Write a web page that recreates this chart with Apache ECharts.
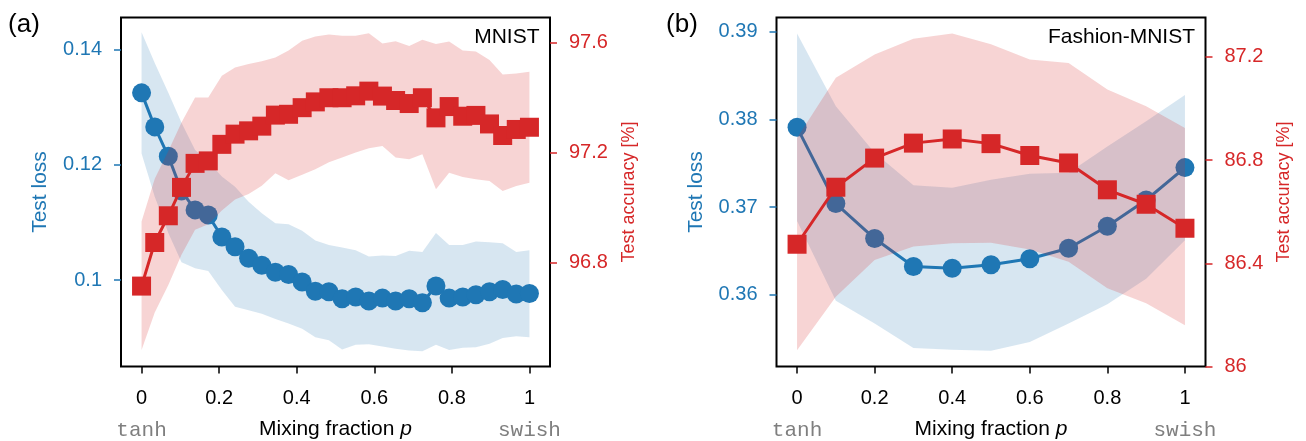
<!DOCTYPE html>
<html>
<head>
<meta charset="utf-8">
<script src="https://cdn.jsdelivr.net/npm/echarts@6/dist/echarts.min.js"></script>
<style>
  html, body { margin: 0; padding: 0; background: #fff; }
  #chart { width: 1306px; height: 441px; }
</style>
</head>
<body>
<div id="chart"></div>
<script>
// (a) MNIST: 30 mixing fractions
const mnistP = [0, 0.034, 0.069, 0.103, 0.138, 0.172, 0.207, 0.241, 0.276, 0.31,
  0.345, 0.379, 0.414, 0.448, 0.483, 0.517, 0.552, 0.586, 0.621, 0.655,
  0.69, 0.724, 0.759, 0.793, 0.828, 0.862, 0.897, 0.931, 0.966, 1];
const mnistLoss = [0.1325, 0.1266, 0.1215, 0.1155, 0.1122, 0.1113, 0.1075, 0.1058, 0.1038, 0.1026,
  0.1014, 0.1010, 0.0997, 0.0981, 0.0980, 0.0968, 0.0971, 0.0964, 0.0969, 0.0964,
  0.0968, 0.0961, 0.0990, 0.0969, 0.0971, 0.0975, 0.0980, 0.0984, 0.0976, 0.0977];
const mnistLossHi = [0.1430, 0.1377, 0.1325, 0.1273, 0.1226, 0.1206, 0.1180, 0.1162, 0.1136, 0.1116,
  0.1099, 0.1097, 0.1086, 0.1069, 0.1061, 0.1057, 0.1052, 0.1041, 0.1043, 0.1042,
  0.1051, 0.1049, 0.1082, 0.1061, 0.1061, 0.1067, 0.1066, 0.1064, 0.1049, 0.1052];
const mnistLossLo = [0.1220, 0.1145, 0.1082, 0.1031, 0.1021, 0.1016, 0.0983, 0.0954, 0.0948, 0.0942,
  0.0933, 0.0925, 0.0916, 0.0901, 0.0896, 0.0880, 0.0888, 0.0889, 0.0885, 0.0881,
  0.0878, 0.0877, 0.0888, 0.0879, 0.0883, 0.0884, 0.0890, 0.0900, 0.0903, 0.0901];
const mnistAcc = [96.716, 96.874, 96.971, 97.074, 97.161, 97.170, 97.230, 97.267, 97.279, 97.296,
  97.336, 97.339, 97.363, 97.384, 97.399, 97.399, 97.406, 97.423, 97.405, 97.389,
  97.378, 97.399, 97.326, 97.367, 97.332, 97.335, 97.304, 97.262, 97.284, 97.292];
const mnistAccHi = [96.95, 97.105, 97.206, 97.309, 97.40, 97.40, 97.479, 97.509, 97.521, 97.531,
  97.545, 97.57, 97.606, 97.621, 97.628, 97.624, 97.624, 97.633, 97.596, 97.604,
  97.587, 97.609, 97.594, 97.603, 97.57, 97.567, 97.536, 97.483, 97.487, 97.493];
const mnistAccLo = [96.484, 96.62, 96.72, 96.83, 96.92, 96.94, 96.99, 97.03, 97.05, 97.08,
  97.125, 97.10, 97.12, 97.14, 97.165, 97.182, 97.2, 97.216, 97.224, 97.182,
  97.176, 97.194, 97.067, 97.127, 97.112, 97.103, 97.097, 97.061, 97.079, 97.091];

// (b) Fashion-MNIST: 11 mixing fractions
const fashionP = [0, 0.1, 0.2, 0.3, 0.4, 0.5, 0.6, 0.7, 0.8, 0.9, 1];
const fashionLoss = [0.3791, 0.3704, 0.3664, 0.3632, 0.3630, 0.3634, 0.3641, 0.3653, 0.3678, 0.3708, 0.3745];
const fashionLossHi = [0.3898, 0.3815, 0.3762, 0.3725, 0.3722, 0.3731, 0.3738, 0.3739, 0.3769, 0.3798, 0.3828];
const fashionLossLo = [0.3684, 0.3593, 0.3567, 0.3539, 0.3537, 0.3536, 0.3546, 0.3567, 0.3589, 0.3618, 0.3662];
const fashionAcc = [86.474, 86.695, 86.808, 86.866, 86.882, 86.864, 86.818, 86.789, 86.685, 86.629, 86.536];
const fashionAccHi = [86.886, 87.119, 87.210, 87.271, 87.291, 87.249, 87.190, 87.177, 87.074, 87.009, 86.925];
const fashionAccLo = [86.063, 86.270, 86.413, 86.465, 86.478, 86.480, 86.454, 86.406, 86.303, 86.245, 86.160];

// tick labels
const pTicks = [0, 0.2, 0.4, 0.6, 0.8, 1];
const mnistLossTicks = [0.1, 0.12, 0.14];
const mnistAccTicks = [96.8, 97.2, 97.6];
const fashionLossTicks = [0.36, 0.37, 0.38, 0.39];
const fashionAccTicks = [86, 86.4, 86.8, 87.2];

const BLUE = '#1f77b4';
const RED = '#d62728';
const FONT = 'Liberation Sans';

let chart = echarts.init(document.getElementById('chart'), null, { renderer: 'canvas' });

function xAxisOf(grid) {
    return {
        type: 'value', gridIndex: grid, min: -0.053, max: 1.053,
        splitLine: { show: false },
        axisLine: { show: false, onZero: false },
        axisTick: { show: true, length: 7, customValues: pTicks, lineStyle: { color: '#000', width: 1.5 } },
        axisLabel: { customValues: pTicks, margin: 22, color: '#000', fontSize: 20, fontFamily: FONT },
        name: '{n|Mixing fraction }{p|p}',
        nameLocation: 'middle', nameGap: 52,
        nameTextStyle: {
            color: '#000',
            rich: {
                n: { fontSize: 21, fontFamily: FONT, color: '#000' },
                p: { fontSize: 21, fontFamily: FONT, fontStyle: 'italic', color: '#000' }
            }
        }
    };
}

function yAxisOf(grid, pos, min, max, ticks, color, name, nameSize) {
    return {
        type: 'value', gridIndex: grid, position: pos, min: min, max: max,
        splitLine: { show: false },
        axisLine: { show: false, onZero: false },
        axisTick: { show: true, length: 7, customValues: ticks, lineStyle: { color: color, width: 1.5 } },
        axisLabel: { customValues: ticks, margin: 19, color: color, fontSize: 20, fontFamily: FONT },
        name: name, nameLocation: 'middle', nameRotate: 90, nameGap: 70,
        nameTextStyle: { color: color, fontSize: nameSize, fontFamily: FONT }
    };
}

function band(xs, lo, hi, xi, yi, fill, z) {
    return {
        type: 'custom', xAxisIndex: xi, yAxisIndex: yi, z: z, silent: true,
        data: xs.map((x, i) => [x, lo[i], hi[i]]),
        encode: { x: 0, y: [1, 2] },
        renderItem: function (params, api) {
            if (params.dataIndex !== 0) return null;
            let top = [];
            let bottom = [];
            for (let i = 0; i < xs.length; i++) {
                top.push(api.coord([xs[i], hi[i]]));
                bottom.push(api.coord([xs[i], lo[i]]));
            }
            return {
                type: 'polygon',
                shape: { points: top.concat(bottom.reverse()) },
                style: { fill: fill }
            };
        }
    };
}

function line(xs, ys, xi, yi, color, symbol, z) {
    return {
        type: 'line', xAxisIndex: xi, yAxisIndex: yi, z: z, silent: true,
        data: xs.map((x, i) => [x, ys[i]]),
        symbol: symbol, symbolSize: 19, showSymbol: true,
        itemStyle: { color: color, opacity: 1 },
        lineStyle: { color: color, width: 3 }
    };
}

let option = {
    animation: false,
    grid: [
        { left: 121, top: 17.5, width: 429, height: 349, show: true, borderColor: '#000', borderWidth: 2, outerBoundsMode: 'none' },
        { left: 776.5, top: 17.5, width: 429, height: 349, show: true, borderColor: '#000', borderWidth: 2, outerBoundsMode: 'none' }
    ],
    xAxis: [xAxisOf(0), xAxisOf(1)],
    yAxis: [
        yAxisOf(0, 'left', 0.08504, 0.14557, mnistLossTicks, BLUE, 'Test loss', 21),
        yAxisOf(0, 'right', 96.4244, 97.690, mnistAccTicks, RED, 'Test accuracy [%]', 18),
        yAxisOf(1, 'left', 0.35179, 0.39164, fashionLossTicks, BLUE, 'Test loss', 21),
        yAxisOf(1, 'right', 86.0, 87.353, fashionAccTicks, RED, 'Test accuracy [%]', 18)
    ],
    series: [
        band(mnistP, mnistLossLo, mnistLossHi, 0, 0, 'rgba(31,119,180,0.18)', 1),
        line(mnistP, mnistLoss, 0, 0, BLUE, 'circle', 2),
        band(mnistP, mnistAccLo, mnistAccHi, 0, 1, 'rgba(214,39,40,0.2)', 3),
        line(mnistP, mnistAcc, 0, 1, RED, 'rect', 4),
        band(fashionP, fashionLossLo, fashionLossHi, 1, 2, 'rgba(31,119,180,0.18)', 1),
        line(fashionP, fashionLoss, 1, 2, BLUE, 'circle', 2),
        band(fashionP, fashionAccLo, fashionAccHi, 1, 3, 'rgba(214,39,40,0.2)', 3),
        line(fashionP, fashionAcc, 1, 3, RED, 'rect', 4)
    ]
};
chart.setOption(option);

// labels below the ends of each x axis, placed at p = 0 and p = 1
function endLabel(text, xi, p) {
    let x = chart.convertToPixel({ xAxisIndex: xi }, p);
    return {
        type: 'text', silent: true,
        style: { text: text, x: x, y: 430, textAlign: 'center', textVerticalAlign: 'middle',
            font: '21px "Liberation Mono"', fill: '#7f7f7f' }
    };
}

chart.setOption({
    graphic: [
        { type: 'text', silent: true, style: { text: '(a)', x: 24, y: 25, textAlign: 'center', textVerticalAlign: 'middle', font: '26px "Liberation Sans"', fill: '#000' } },
        { type: 'text', silent: true, style: { text: '(b)', x: 682, y: 25, textAlign: 'center', textVerticalAlign: 'middle', font: '26px "Liberation Sans"', fill: '#000' } },
        { type: 'text', silent: true, style: { text: 'MNIST', x: 539.5, y: 37.5, textAlign: 'right', textVerticalAlign: 'middle', font: '21px "Liberation Sans"', fill: '#000' } },
        { type: 'text', silent: true, style: { text: 'Fashion-MNIST', x: 1195, y: 37.5, textAlign: 'right', textVerticalAlign: 'middle', font: '21px "Liberation Sans"', fill: '#000' } },
        endLabel('tanh', 0, 0),
        endLabel('swish', 0, 1),
        endLabel('tanh', 1, 0),
        endLabel('swish', 1, 1)
    ]
});
</script>
</body>
</html>
